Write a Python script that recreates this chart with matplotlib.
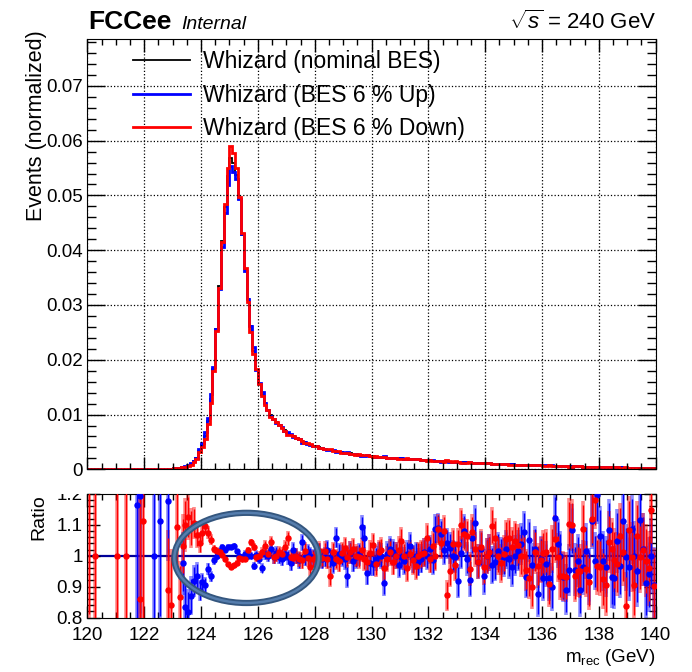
import numpy as np
import matplotlib
matplotlib.use("Agg")
from matplotlib import pyplot as plt
from matplotlib.patches import Ellipse, Rectangle
from matplotlib.ticker import MultipleLocator, FuncFormatter

plt.rcParams['font.family'] = ['Liberation Sans', 'DejaVu Sans']
plt.rcParams['mathtext.fontset'] = 'custom'
plt.rcParams['mathtext.rm'] = 'Liberation Sans'
plt.rcParams['mathtext.it'] = 'Liberation Sans:italic'

# binning: 200 bins of 0.1 GeV from 120 to 140
edges = np.round(np.linspace(120, 140, 201), 2)
centers = 0.5 * (edges[:-1] + edges[1:])

# nominal BES histogram (normalized), one value per bin
nominal = [
    0.00001, 0.00001, 0.00001, 0.00000, 0.00001, 0.00000, 0.00001, 0.00001, 0.00000, 0.00001,  # 120
    0.00001, 0.00001, 0.00001, 0.00001, 0.00001, 0.00002, 0.00002, 0.00002, 0.00002, 0.00002,  # 121
    0.00003, 0.00003, 0.00004, 0.00002, 0.00005, 0.00003, 0.00007, 0.00008, 0.00010, 0.00012,  # 122
    0.00016, 0.00021, 0.00028, 0.00037, 0.00050, 0.00068, 0.00095, 0.00144, 0.00200, 0.00330,  # 123
    0.00440, 0.00610, 0.00890, 0.01280, 0.01840, 0.02570, 0.03350, 0.04160, 0.04780, 0.05350,  # 124
    0.05690, 0.05600, 0.05380, 0.04930, 0.04270, 0.03650, 0.03110, 0.02610, 0.02160, 0.01820,  # 125
    0.01560, 0.01360, 0.01210, 0.01090, 0.01000, 0.00920, 0.00860, 0.00810, 0.00760, 0.00710,  # 126
    0.00670, 0.00630, 0.00600, 0.00570, 0.00540, 0.00510, 0.00490, 0.00470, 0.00450, 0.00430,  # 127
    0.00420, 0.00400, 0.00390, 0.00370, 0.00360, 0.00350, 0.00340, 0.00330, 0.00320, 0.00310,  # 128
    0.00300, 0.00290, 0.00290, 0.00280, 0.00270, 0.00270, 0.00260, 0.00250, 0.00250, 0.00240,  # 129
    0.00240, 0.00230, 0.00230, 0.00220, 0.00220, 0.00210, 0.00210, 0.00210, 0.00200, 0.00200,  # 130
    0.00200, 0.00190, 0.00190, 0.00190, 0.00180, 0.00180, 0.00180, 0.00170, 0.00170, 0.00170,  # 131
    0.00170, 0.00160, 0.00160, 0.00160, 0.00150, 0.00150, 0.00150, 0.00140, 0.00140, 0.00140,  # 132
    0.00130, 0.00130, 0.00130, 0.00130, 0.00120, 0.00120, 0.00120, 0.00120, 0.00110, 0.00110,  # 133
    0.00110, 0.00110, 0.00100, 0.00100, 0.00100, 0.00100, 0.00096, 0.00094, 0.00092, 0.00090,  # 134
    0.00088, 0.00086, 0.00084, 0.00082, 0.00080, 0.00078, 0.00076, 0.00074, 0.00072, 0.00071,  # 135
    0.00069, 0.00068, 0.00066, 0.00064, 0.00063, 0.00061, 0.00060, 0.00058, 0.00057, 0.00055,  # 136
    0.00054, 0.00052, 0.00051, 0.00050, 0.00048, 0.00047, 0.00046, 0.00045, 0.00043, 0.00042,  # 137
    0.00041, 0.00040, 0.00039, 0.00038, 0.00037, 0.00036, 0.00035, 0.00034, 0.00033, 0.00032,  # 138
    0.00031, 0.00030, 0.00030, 0.00029, 0.00028, 0.00027, 0.00027, 0.00026, 0.00025, 0.00025,  # 139
]

nan = np.nan
# ratio nominal / (BES 6 % Up)
ratio_up = [
    nan, nan, nan, nan, nan, nan, nan, nan, nan, nan,
    nan, nan, nan, nan, nan, nan, nan, 1.163, 1.195, nan,
    nan, nan, nan, 1.0, nan, 1.114, nan, nan, 1.178, nan,
    nan, nan, nan, 0.975, 0.835, 0.818, 0.87, 0.919, 0.935, 0.887,
    0.914, 0.905, 0.957, 0.933, 0.985, 1.0, 1.015, 1.027, 1.02, 1.029,
    1.029, 1.033, 1.015, 1.0, 0.995, 1.007, 1.0, 1.0, 0.968, 1.003,
    0.99, 0.96, 1.005, 1.0, 1.023, 0.995, 1.01, 0.995, 0.99, 1.007,
    0.995, 0.975, 1.018, 1.0, 0.985, 1.043, 0.995, 1.011, 1.0, 0.993,
    0.995, 1.01, 0.989, 0.995, 1.018, 0.993, 0.975, 1.059, 1.007, 1.0,
    0.991, 0.933, 1.01, 0.984, 0.995, 1.005, 1.093, 1.059, 0.943, 0.975,
    0.973, 0.99, 1.005, 1.0, 0.911, 1.005, 1.021, 1.011, 1.0, 0.971,
    0.997, 0.984, 1.005, 1.032, 0.989, 1.0, 0.979, 0.99, 1.011, 1.0,
    1.021, 0.985, 1.085, 1.091, 1.069, 1.02, 1.04, 1.025, 1.0, 0.995,
    0.918, 1.01, 1.08, 0.99, 0.922, 1.059, 1.107, 0.98, 1.021, 0.933,
    1.0, 1.011, 0.97, 0.98, 1.016, 1.0, 0.995, 1.021, 0.99, 0.965,
    1.0, 1.016, 1.037, 1.078, 0.931, 1.05, 0.97, 1.023, 0.875, 0.989,
    0.929, 0.973, 0.929, 0.899, 1.123, 1.039, 1.0, 0.931, 0.89, 0.954,
    1.082, 0.954, 0.984, 0.89, 0.963, 1.016, 0.933, 1.114, 0.982, 1.197,
    1.064, 0.984, 0.965, 1.082, 0.931, 0.929, 1.048, 0.968, 1.114, 0.995,
    0.965, 1.085, 1.0, 0.95, 1.117, 1.021, 0.911, 0.94, 1.0, 0.905,
]

# ratio nominal / (BES 6 % Down)
ratio_down = [
    1.35, nan, 1.0, nan, nan, nan, nan, nan, nan, nan,
    1.0, nan, nan, 1.0, nan, nan, nan, nan, 0.86, 1.112,
    nan, nan, nan, nan, nan, nan, nan, nan, 0.889, 0.842,
    nan, 1.092, 0.866, 1.032, 1.10, 1.125, 1.09, 1.105, 1.068, 1.042,
    1.074, 1.095, 1.074, 1.052, 1.022, 1.015, 1.012, 1.004, 0.988, 0.972,
    0.965, 0.969, 0.978, 0.993, 0.989, 0.991, 1.018, 1.043, 1.029, 0.995,
    1.0, 1.011, 1.032, 1.005, 1.043, 0.995, 1.0, 1.011, 1.005, 1.027,
    1.057, 0.995, 0.993, 1.0, 0.989, 0.985, 1.016, 0.993, 0.963, 0.989,
    1.0, 1.016, 0.993, 1.014, 0.99, 0.933, 1.011, 0.989, 0.982, 1.01,
    1.025, 0.997, 1.011, 1.021, 1.0, 0.995, 1.018, 0.99, 0.979, 1.01,
    1.035, 0.973, 1.011, 1.018, 0.961, 0.99, 1.011, 0.979, 1.0, 1.02,
    1.048, 1.0, 0.961, 1.005, 0.985, 0.968, 1.0, 1.005, 1.01, 1.059,
    0.99, 1.032, 1.0, 1.085, 1.04, 1.08, 0.872, 0.952, 1.039, 0.97,
    1.037, 1.101, 1.069, 1.064, 0.957, 1.078, 1.021, 0.98, 1.027, 0.963,
    1.0, 1.011, 1.096, 1.059, 1.0, 0.975, 1.005, 1.053, 1.059, 1.027,
    1.048, 1.035, 1.0, 1.0, 0.954, 0.929, 0.899, 1.013, 0.968, 0.986,
    1.01, 1.011, 0.909, 1.021, 1.053, 0.995, 0.936, 0.933, 0.931, 1.103,
    1.099, 0.936, 0.952, 0.95, 1.087, 0.957, 0.915, 1.12, 1.181, 0.968,
    0.965, 0.925, 0.904, 1.043, 1.021, 0.986, 0.973, 1.064, 1.011, 0.837,
    1.082, 0.995, 0.905, 1.064, 0.995, 1.02, 0.984, 0.96, 1.149, 0.903,
]

labels = ['Whizard (nominal BES)', 'Whizard (BES 6 % Up)', 'Whizard (BES 6 % Down)']

nominal = np.array(nominal)
ratio_up = np.array(ratio_up)
ratio_down = np.array(ratio_down)
up = np.where(np.isfinite(ratio_up), nominal / ratio_up, nominal)
down = np.where(np.isfinite(ratio_down), nominal / ratio_down, nominal)
# statistical uncertainty on the ratio, from the bin content
err = 0.0017 / np.sqrt(np.where(nominal > 0, nominal, 1e-6))

fig = plt.figure(figsize=(6.92, 6.72), dpi=100)
ax = fig.add_axes([0.1263, 0.3016, 0.8212, 0.6399])
ax2 = fig.add_axes([0.1263, 0.0811, 0.8212, 0.1838])

# --- upper panel
ax.stairs(nominal, edges, color='black', lw=1.3, label=labels[0])
ax.stairs(up, edges, color='#0000ff', lw=2, label=labels[1])
ax.stairs(down, edges, color='#ff0000', lw=2, label=labels[2])

ax.set_xlim(120, 140)
ax.set_ylim(0, 0.0785)
ax.xaxis.set_major_locator(MultipleLocator(2))
ax.xaxis.set_minor_locator(MultipleLocator(0.5))
ax.yaxis.set_major_locator(MultipleLocator(0.01))
ax.yaxis.set_minor_locator(MultipleLocator(0.002))
ax.yaxis.set_major_formatter(FuncFormatter(lambda v, p: '0' if abs(v) < 1e-9 else f'{v:.2f}'))
ax.grid(which='major', linestyle=':', color='black', linewidth=0.9)
ax.tick_params(which='both', direction='in', top=True, right=True, labelbottom=False,
               labelsize=13.5, width=1)
ax.tick_params(axis='y', which='major', length=13)
ax.tick_params(axis='y', which='minor', length=6.5)
ax.tick_params(axis='x', which='major', length=9)
ax.tick_params(axis='x', which='minor', length=4.5)
ax.set_ylabel('Events (normalized)', loc='top', fontsize=15.5)
ax.yaxis.set_label_coords(-0.071, 1.02)

leg = ax.legend(loc='upper left', bbox_to_anchor=(0.0803, 0.974), frameon=False, fontsize=16.5,
                borderpad=0, borderaxespad=0, handlelength=2.49, handletextpad=0.57,
                labelspacing=0.44)

# --- ratio panel
ax2.axhline(1.0, color='#000099', lw=1.6, zorder=1)
for r, c in [(ratio_up, '#0000ff'), (ratio_down, '#ff0000')]:
    ax2.errorbar(centers, r, yerr=err * 1.15, fmt='none', ecolor=c, elinewidth=2.6, alpha=0.45, zorder=2)
    ax2.errorbar(centers, r, yerr=err, fmt='o', color=c, ms=3.6, elinewidth=1, zorder=3)

ax2.set_xlim(120, 140)
ax2.set_ylim(0.8, 1.2)
ax2.xaxis.set_major_locator(MultipleLocator(2))
ax2.xaxis.set_minor_locator(MultipleLocator(0.5))
ax2.yaxis.set_major_locator(MultipleLocator(0.1))
ax2.yaxis.set_minor_locator(MultipleLocator(0.02))
ax2.yaxis.set_major_formatter(FuncFormatter(lambda v, p: f'{v:g}'))
ax2.tick_params(which='both', direction='in', top=True, right=True, labelsize=13.5, width=1)
ax2.tick_params(axis='x', which='both', pad=6.5)
ax2.tick_params(axis='y', which='major', length=9)
ax2.tick_params(axis='y', which='minor', length=5)
ax2.tick_params(axis='x', which='major', length=9)
ax2.tick_params(axis='x', which='minor', length=4.5)
ax2.set_ylabel('Ratio', loc='top', fontsize=14)
ax2.yaxis.set_label_coords(-0.071, 1.0)
ax2.set_xlabel(r'm$_{\mathrm{rec}}$ (GeV)', loc='right', fontsize=13.5)
ax2.xaxis.set_label_coords(1.0, -0.24)

# highlight ellipse
ax2.add_patch(Ellipse((125.6, 0.993), 5.08, 0.292, fill=False, edgecolor='#34567e', lw=4.5,
                      clip_on=False, zorder=10))
ax2.add_patch(Ellipse((125.6, 0.993), 5.08, 0.292, fill=False, edgecolor='#557dad', lw=1.8,
                      clip_on=False, zorder=11))

# upper pad hides the top half of the "1.2" label
fig.patches.append(Rectangle((0.02, 0.2649), 0.1, 0.021, transform=fig.transFigure,
                             facecolor='white', edgecolor='none', zorder=5))

fig.text(0.127, 0.9566, 'FCCee', fontsize=19, fontweight='bold', va='baseline')
fig.text(0.262, 0.9566, 'Internal', fontsize=14, style='italic', va='baseline')
fig.text(0.949, 0.9566, r'$\sqrt{s}$ = 240 GeV', fontsize=16, ha='right', va='baseline')

fig.savefig('out.png', dpi=100)
